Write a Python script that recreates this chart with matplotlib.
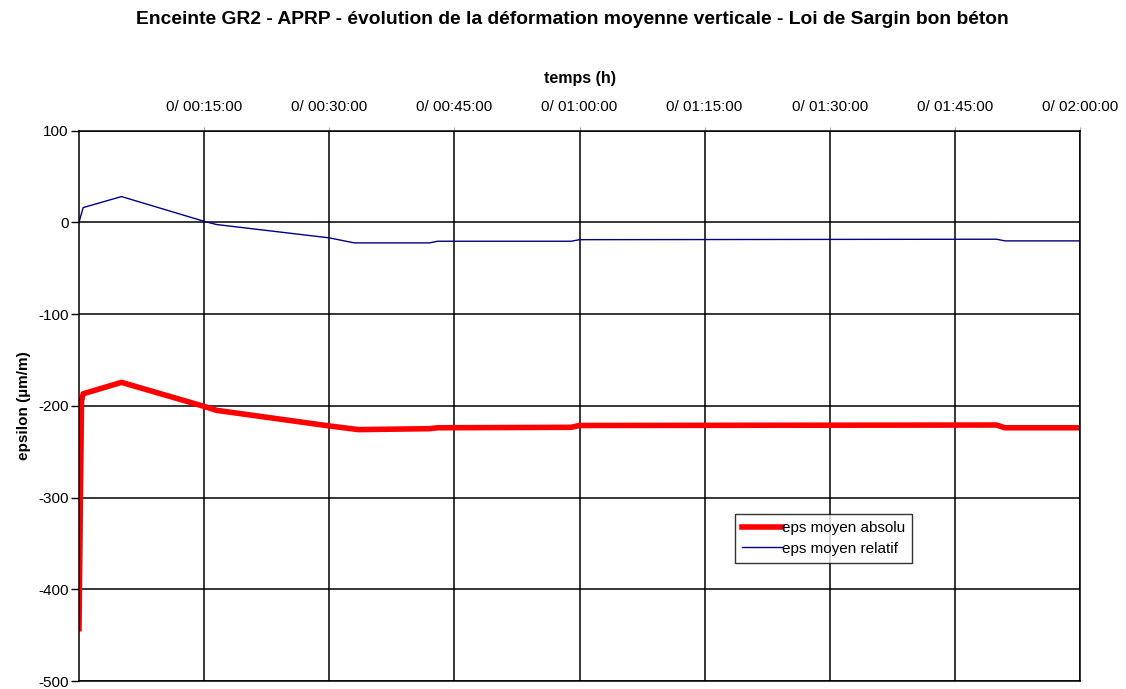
import matplotlib
matplotlib.use("Agg")
import matplotlib.pyplot as plt

plt.rcParams['font.family'] = ['Liberation Sans', 'DejaVu Sans']

# time in minutes
t_rel = [0, 0.5, 5.1, 15, 16.5, 30, 33, 42, 43, 59, 60, 110, 111, 120]
eps_rel = [0, 16, 28, 1, -2.5, -17, -22.5, -22.5, -20.7, -20.7, -19, -18.5, -20.3, -20.3]

t_abs = [0, 0.3, 0.5, 5.1, 15, 16.5, 30, 33.5, 42, 43, 59, 60, 110, 111, 120]
eps_abs = [-443, -195, -187, -174.5, -200.7, -205, -222, -226, -225, -224, -223.5, -221.5, -221, -224, -224]

xticks_min = [15, 30, 45, 60, 75, 90, 105, 120]
xtick_labels = ["0/ 00:15:00", "0/ 00:30:00", "0/ 00:45:00", "0/ 01:00:00",
                "0/ 01:15:00", "0/ 01:30:00", "0/ 01:45:00", "0/ 02:00:00"]
yticks = [-500, -400, -300, -200, -100, 0, 100]

fig = plt.figure(figsize=(11.26, 6.89), dpi=100)
W, H = 1126, 689
ax = fig.add_axes([79/W, 1 - 681/H, (1080-79)/W, (681-130.5)/H])

ax.plot(t_abs, eps_abs, color='#ff0000', lw=4.0, label='eps moyen absolu')
ax.plot(t_rel, eps_rel, color='#000080', lw=1.0, label='eps moyen relatif')

ax.set_xlim(0, 120)
ax.set_ylim(-500, 100)
ax.set_xticks(xticks_min)
ax.set_xticklabels(xtick_labels, fontsize=11)
ax.set_yticks(yticks)
ax.set_yticklabels([str(v) for v in yticks], fontsize=11)
ax.xaxis.tick_top()
ax.xaxis.set_label_position('top')
ax.tick_params(axis='x', length=3, width=0.8, pad=9, color='#aaaaaa')
ax.tick_params(axis='y', length=5.5, width=1.0, pad=2, color='black')
ax.grid(True, color='black', lw=1.1)
for s in ax.spines.values():
    s.set_color('black')
    s.set_linewidth(1.1)

ax.set_xlabel('temps (h)', fontsize=11.5, fontweight='bold', labelpad=12)
ax.set_ylabel('epsilon (µm/m)', fontsize=11, fontweight='bold', labelpad=5)

fig.text(572/W, 1 - 20/H, 'Enceinte GR2 - APRP - évolution de la déformation moyenne verticale - Loi de Sargin bon béton',
         ha='center', va='center', fontsize=13.9, fontweight='bold')

leg = ax.legend(loc='upper left', bbox_to_anchor=((735-79)/(1080-79), (681-514)/(681-130.5)),
                fontsize=11, frameon=True, fancybox=False, edgecolor='black',
                borderpad=0.45, handlelength=2.6, handletextpad=0.05, labelspacing=0.45,
                borderaxespad=0)
leg.get_frame().set_linewidth(1.0)

fig.savefig('out.png', dpi=100, facecolor='white')
